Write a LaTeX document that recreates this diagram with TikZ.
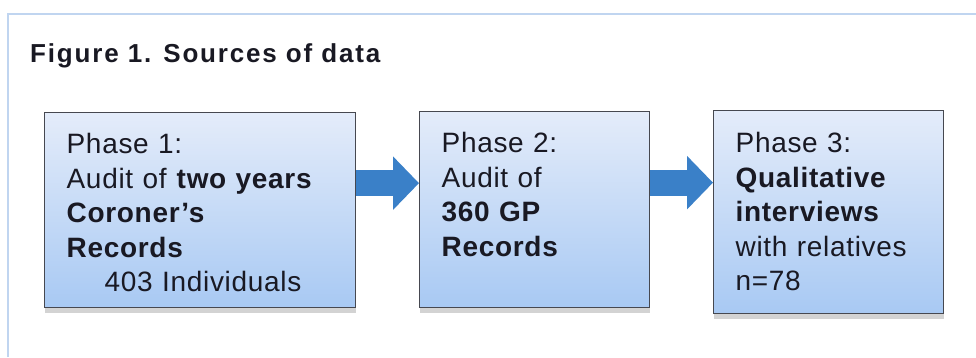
\documentclass[tikz,border=0pt]{standalone}
\usepackage{fontspec}
\setmainfont{Liberation Sans}[LetterSpace=2.5]
\newfontfamily\titlefont{Liberation Sans}[LetterSpace=7]
\usetikzlibrary{arrows.meta}
\usetikzlibrary{shadows}
\definecolor{framebl}{RGB}{192,213,240}
\definecolor{boxtop}{RGB}{228,236,250}
\definecolor{boxbot}{RGB}{168,201,243}
\definecolor{boxline}{RGB}{70,72,80}
\definecolor{arrowbl}{RGB}{58,128,200}
\definecolor{txt}{RGB}{25,25,35}

\begin{document}
\begin{tikzpicture} [x=1pt, y=-1pt,
  phase/.style={draw=boxline, line width=1.3pt, top color=boxtop, bottom color=boxbot,
    inner xsep=22pt, inner ysep=0pt, text width=#1, align=left, anchor=north west, text=txt,
    font=\fontsize{28}{34.5}\selectfont,
    drop shadow={shadow xshift=0pt, shadow yshift=-5pt, opacity=.35}},
  flow/.style={arrowbl, line width=26pt, -{Triangle[length=26pt,width=52pt]}}]
\useasboundingbox (0,0) rectangle (976,357);
\draw[framebl, line width=1.5pt] (8,357) -- (8,14) -- (976,14);
\node[anchor=base west, inner sep=0, text=txt, font=\titlefont\fontsize{26}{30}\selectfont\bfseries] (title) at (30,62) {Figure 1. Sources of data};

\node[phase=267pt, text height=41pt, text depth=154pt] (ph1) at (44,112)
 {Phase 1:\\Audit of \textbf{two years}\\\textbf{Coroner's}\\\textbf{Records}\\\hspace*{38pt}403 Individuals};
\node[phase=186pt, text height=41pt, text depth=155pt] (ph2) at (419,111)
 {Phase 2:\\Audit of\\\textbf{360 GP}\\\textbf{Records}};
\node[phase=186pt, text height=42pt, text depth=161pt] (ph3) at (713,110)
 {Phase 3:\\\textbf{Qualitative}\\\textbf{interviews}\\with relatives\\n=78};

\foreach \a/\b in {ph1/ph2,ph2/ph3}
 \draw[flow] ([yshift=27pt]\a.east) -- ([yshift=27pt]\a.east -| \b.west);
\end{tikzpicture}
\end{document}
